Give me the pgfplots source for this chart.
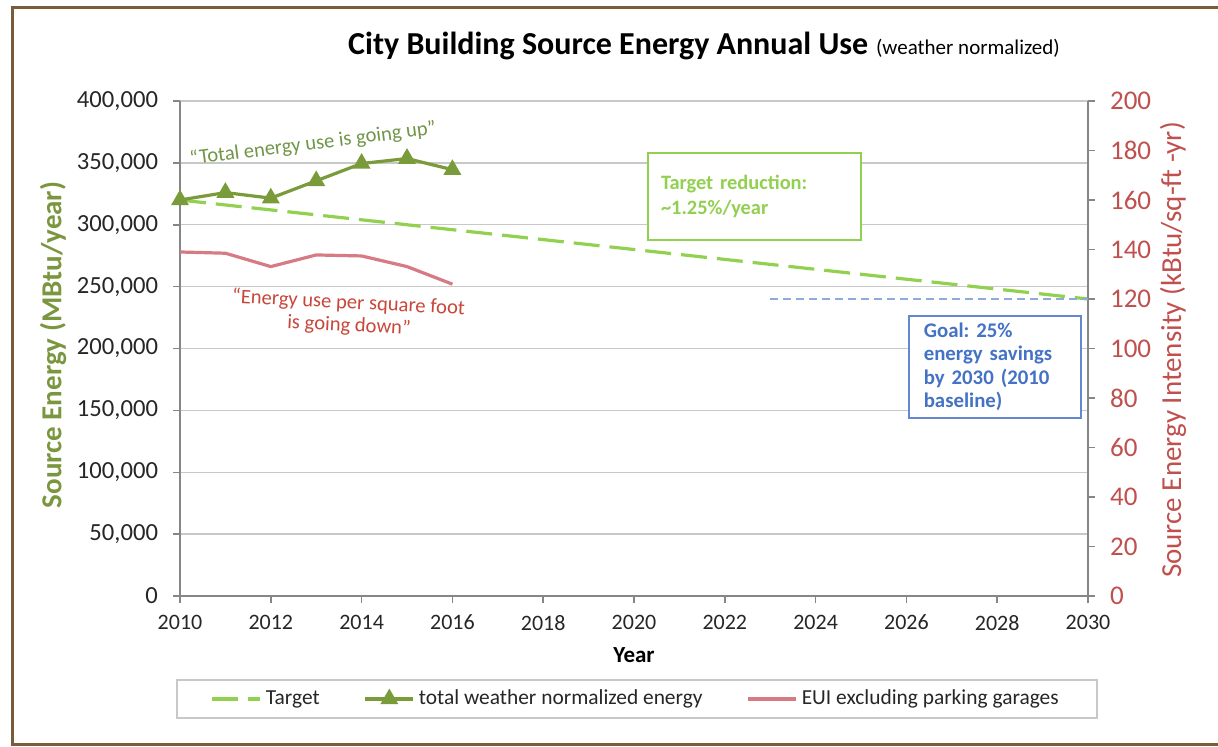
\documentclass[border=0pt]{standalone}
\usepackage{pgfplots}
\pgfplotsset{compat=1.18}
\usepackage{fontspec}
\setmainfont{Carlito}
\frenchspacing

\definecolor{framebrown}{RGB}{122,92,58}
\definecolor{totgreen}{RGB}{122,155,58}
\definecolor{targetgreen}{RGB}{146,208,80}
\definecolor{labgreen}{RGB}{122,150,62}
\definecolor{anngreen}{RGB}{112,150,72}
\definecolor{euired}{RGB}{214,122,132}
\definecolor{axred}{RGB}{192,80,77}
\definecolor{annred}{RGB}{200,70,58}
\definecolor{goalblue}{RGB}{68,114,196}
\definecolor{goalframe}{RGB}{100,135,210}
\definecolor{dashblue}{RGB}{142,169,219}
\definecolor{gridgray}{RGB}{200,200,200}
\definecolor{axisgray}{RGB}{134,134,134}
\definecolor{ticktext}{RGB}{38,38,38}

\pgfplotsset{
  targetline/.style={color=targetgreen, line width=1.6pt, dash pattern=on 13pt off 5pt},
  totalline/.style={color=totgreen, line width=1.6pt, mark=triangle*, mark size=3.6pt, mark options={solid, fill=totgreen}},
  euiline/.style={color=euired, line width=1.6pt},
  goalline/.style={color=dashblue, line width=1pt, dash pattern=on 4pt off 2.5pt},
  common/.style={
    at={(90pt,75pt)}, anchor=south west,
    scale only axis, width=454pt, height=247.5pt,
    xmin=2010, xmax=2030,
    tick align=outside, major tick length=3.5pt, minor tick length=3.5pt,
    tick style={axisgray, line width=0.75pt},
    axis line style={axisgray, line width=0.75pt},
    /pgf/number format/assume math mode=true,
    /pgf/number format/fixed,
    scaled y ticks=false, scaled x ticks=false,
  }
}

\begin{document}
\begin{tikzpicture}
\useasboundingbox (0pt,0pt) rectangle (609pt,373pt);

% primary axis
\begin{axis}[
  common,
  ymin=0, ymax=400000,
  axis x line*=bottom, axis y line*=left,
  xtick={2010,2012,...,2030}, minor x tick num=1,
  ytick={0,50000,...,400000},
  ymajorgrids, grid style={gridgray, line width=0.7pt},
  xticklabel style={font=\fontsize{11}{13}\selectfont, text=ticktext, yshift=-2.5pt, /pgf/number format/1000 sep={}},
  yticklabel style={font=\fontsize{12.3}{14}\selectfont, text=ticktext, xshift=-4pt, /pgf/number format/1000 sep={,}},
  xlabel={Year},
  xlabel style={at={(axis description cs:0.5,-0.1192)}, anchor=center, font=\bfseries\fontsize{11.5}{13}\selectfont, text=black},
  ylabel={Source Energy (MBtu/year)},
  ylabel style={at={(axis description cs:-0.1399,0.507)}, anchor=center, rotate=0, font=\bfseries\fontsize{14.5}{16}\selectfont, text=labgreen},
]
\addplot[targetline, forget plot] coordinates {(2010,320000) (2030,240000)};
\addplot[totalline, forget plot] coordinates {
  (2010,320000) (2011,326000) (2012,321500) (2013,335500)
  (2014,349500) (2015,353500) (2016,344500)};
\end{axis}

% secondary axis
\begin{axis}[
  common,
  ymin=0, ymax=200,
  axis x line=none, axis y line*=right,
  ytick={0,20,...,200},
  yticklabel style={font=\fontsize{13.5}{15}\selectfont, text=axred, xshift=4pt},
  ylabel={Source Energy Intensity (kBtu/sq-ft -yr)},
  ylabel style={at={(axis description cs:1.0936,0.497)}, anchor=center, rotate=0, font=\fontsize{14.5}{16}\selectfont, text=axred},
  legend image code/.code={\draw[mark repeat=2,mark phase=2,#1] plot coordinates {(0pt,0pt) (12pt,0pt) (24pt,0pt)};},
  legend columns=3,
  legend cell align=left,
  legend style={at={(axis description cs:0.503,-0.208)}, anchor=center,
    draw=gridgray, line width=0.9pt, inner xsep=17pt, inner ysep=3pt,
    font=\fontsize{10.7}{12}\selectfont, text=ticktext,
    /tikz/every even column/.append style={column sep=20pt}},
]
\addlegendimage{targetline}
\addlegendentry{Target}
\addlegendimage{totalline}
\addlegendentry{total weather normalized energy}
\addplot[euiline] coordinates {
  (2010,139.0) (2011,138.5) (2012,133.1) (2013,137.8)
  (2014,137.4) (2015,133.1) (2016,126.0)};
\addlegendentry{EUI excluding parking garages}
\addplot[goalline, forget plot] coordinates {(2023,120) (2030,120)};
\end{axis}

% title
\node[anchor=base] at (352pt,345.5pt) {{\bfseries\fontsize{16}{19}\selectfont City Building Source Energy Annual Use}\hspace{4pt}{\fontsize{10.5}{12}\selectfont (weather normalized)}};

% annotations
\node[rotate=7.2, text=anngreen, font=\fontsize{10.3}{12}\selectfont] at (156.5pt,301pt) {“Total energy use is going up”};
\node[rotate=-3, text=annred, inner sep=0pt, font=\fontsize{10.3}{12}\selectfont] at (174.25pt,221.5pt) {“Energy use per square foot};
\node[rotate=-3, text=annred, inner sep=0pt, font=\fontsize{10.3}{12}\selectfont] at (174.5pt,210pt) {is going down”};

\node[draw=targetgreen, line width=1pt, fill=white, anchor=north west,
  text width=93.5pt, inner xsep=6.5pt, minimum height=43.5pt, align=left,
  font=\bfseries\fontsize{10.2}{12.5}\selectfont, text=targetgreen] at (323.5pt,297pt)
  {Target reduction:\\\textasciitilde1.25\%/year};

\node[draw=goalframe, line width=0.8pt, fill=white, anchor=north west,
  text width=71pt, inner xsep=7.5pt, minimum height=51pt, align=left,
  font=\bfseries\fontsize{10.4}{11.75}\selectfont, text=goalblue] at (454pt,215.5pt)
  {Goal: 25\%\\energy savings\\by 2030 (2010\\baseline)};

% frame
\draw[framebrown, line width=1.5pt] (609pt,369pt) -- (6pt,369pt) -- (6pt,1pt) -- (609pt,1pt);
\end{tikzpicture}
\end{document}
